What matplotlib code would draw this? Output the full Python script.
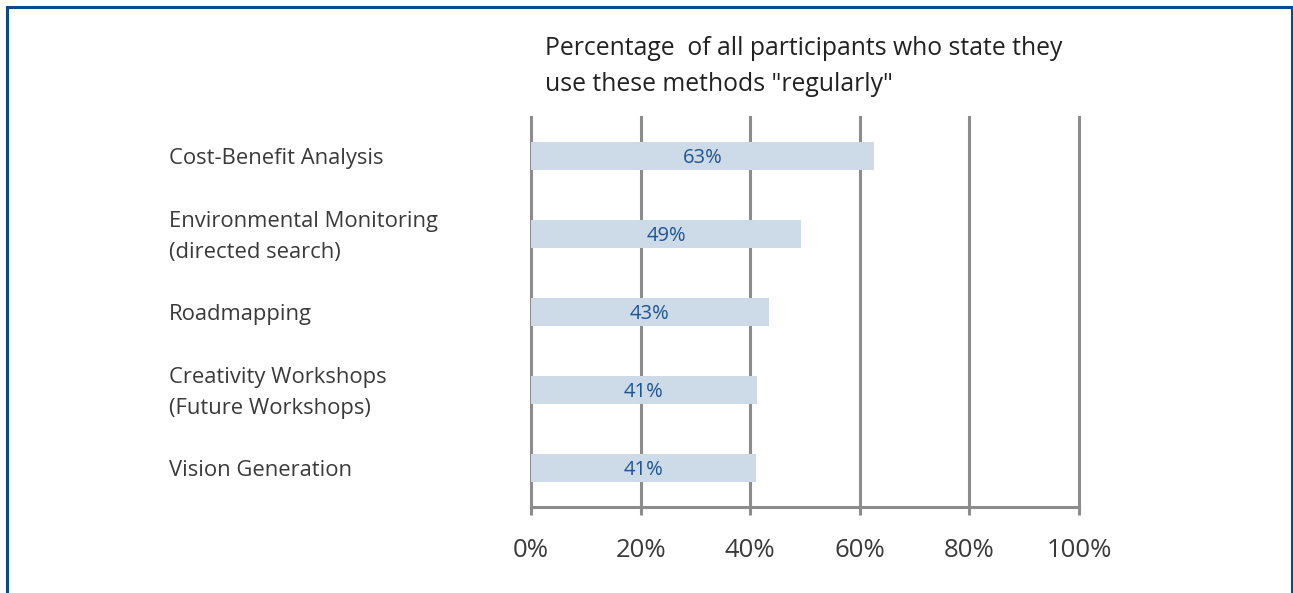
import matplotlib
matplotlib.use("Agg")
import matplotlib.pyplot as plt
from matplotlib.patches import Rectangle

categories = ["Cost-Benefit Analysis",
              "Environmental Monitoring\n(directed search)",
              "Roadmapping",
              "Creativity Workshops\n(Future Workshops)",
              "Vision Generation"]
values = [62.6, 49.3, 43.4, 41.2, 41.1]
value_labels = ["63%", "49%", "43%", "41%", "41%"]
xticks = [0, 20, 40, 60, 80, 100]
xtick_labels = ["0%", "20%", "40%", "60%", "80%", "100%"]
title = 'Percentage  of all participants who state they\nuse these methods "regularly"'

plt.rcParams['font.family'] = ['Open Sans', 'DejaVu Sans']

W, H = 1293, 593
fig = plt.figure(figsize=(W / 100, H / 100), dpi=100)
fig.patch.set_facecolor("white")

# frame
frame = Rectangle((6.5 / W, -0.05), (1292 - 6.5) / W, (H - 6.5) / H + 0.05,
                  transform=fig.transFigure, fill=False, edgecolor="#0b4a8a",
                  linewidth=2.2, clip_on=False)
fig.add_artist(frame)

left, right = 531 / W, 1079 / W
top, bottom = 1 - 117 / H, 1 - 507 / H
ax = fig.add_axes([left, bottom, right - left, top - bottom])

grid_color = "#8c8c8c"
ypos = list(range(len(categories)))
ax.barh(ypos, values, height=0.36, color="#cddae7", zorder=3)
for y, v, lab in zip(ypos, values, value_labels):
    ax.text(v / 2, y + 0.02, lab, ha="center", va="center", fontsize=14.5,
            color="#1f5591", zorder=4)

ax.set_xlim(0, 100)
ax.set_ylim(4.5, -0.5)
ax.set_xticks(xticks)
ax.set_xticklabels(xtick_labels, fontsize=18.5, color="#3a3a3a")
ax.set_yticks([])
for x in xticks:
    ax.axvline(x, color=grid_color, linewidth=2.2, zorder=2, clip_on=False)
for s in ["top", "left", "right"]:
    ax.spines[s].set_visible(False)
ax.spines["bottom"].set_color(grid_color)
ax.spines["bottom"].set_linewidth(2.2)
ax.tick_params(axis="x", length=6, width=2.2, color=grid_color, pad=16.5)

label_x = -362 / 548 * 100
dy = 0.035
for y, cat in zip(ypos, categories):
    lines = cat.split("\n")
    if len(lines) == 2:
        ax.text(label_x, y - 0.2 + dy, lines[0], ha="left", va="center",
                fontsize=15.8, color="#3a3a3a", clip_on=False)
        ax.text(label_x, y + 0.2 + dy, lines[1], ha="left", va="center",
                fontsize=15.8, color="#3a3a3a", clip_on=False)
    else:
        ax.text(label_x, y + dy, cat, ha="left", va="center",
                fontsize=15.8, color="#3a3a3a", clip_on=False)

fig.text(545 / W, 1 - 66.5 / H, title, ha="left", va="center", fontsize=17.8,
         color="#222222", linespacing=1.55)

fig.savefig("out.png", dpi=100)
